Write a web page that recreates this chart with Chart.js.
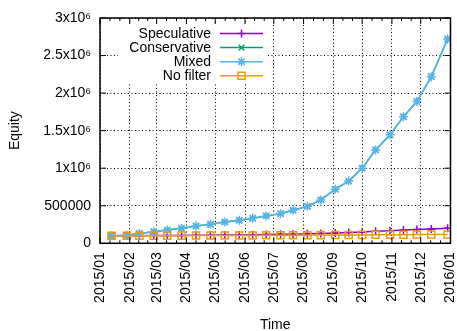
<!DOCTYPE html>
<html><head><meta charset="utf-8">
<script src="https://cdn.jsdelivr.net/npm/chart.js@4/dist/chart.umd.min.js"></script>
<style>html,body{margin:0;padding:0;background:#fff}#wrap{width:457px;height:331px}canvas{display:block}</style>
</head><body>
<div id="wrap"><canvas id="c" width="457" height="331"></canvas></div>
<script>
// ---- data ----
const monthDays = [0, 31, 59, 90, 120, 151, 181, 212, 243, 273, 304, 334, 365];
const monthLabels = ['2015/01','2015/02','2015/03','2015/04','2015/05','2015/06','2015/07','2015/08','2015/09','2015/10','2015/11','2015/12','2016/01'];
const yTickValues = [0, 500000, 1000000, 1500000, 2000000, 2500000, 3000000];
const yTickLabels = ['0', '500000', '1x10⁶', '1.5x10⁶', '2x10⁶', '2.5x10⁶', '3x10⁶'];
const seriesNames = ['Speculative', 'Conservative', 'Mixed', 'No filter'];
// day of year (2015) of each plotted sample
const days = [12, 28, 41, 56, 70, 85, 100, 115, 130, 145, 159, 173, 188, 201, 216, 230, 245, 259, 273, 287, 302, 316, 330, 345, 362];
const speculative = [100000, 101000, 102000, 103000, 104000, 105000, 107000, 108000, 110000, 112000, 114000, 116000, 119000, 122000, 126000, 131000, 138000, 145000, 152000, 160000, 168000, 176000, 184000, 192000, 200000];
const conservative = [100000, 108000, 130000, 155000, 177000, 200000, 230000, 253000, 284000, 307000, 333000, 365000, 395000, 440000, 492000, 578000, 720000, 828000, 1000000, 1244000, 1444000, 1685000, 1888000, 2218000, 2720000];
const mixed = [100000, 108000, 130000, 155000, 177000, 200000, 230000, 253000, 284000, 307000, 333000, 365000, 395000, 440000, 492000, 578000, 720000, 828000, 1000000, 1244000, 1444000, 1685000, 1888000, 2218000, 2720000];
const noFilter = [100000, 100000, 101000, 101000, 102000, 102000, 103000, 103000, 104000, 104000, 105000, 106000, 106000, 107000, 108000, 109000, 110000, 111000, 112000, 113000, 114000, 115000, 116000, 117000, 118000];

const FONT = '"Liberation Sans", Arial, sans-serif';
Chart.defaults.font.family = FONT;
Chart.defaults.font.size = 14;
Chart.defaults.color = '#000';

function pts(vals) { return vals.map((v, i) => ({x: days[i], y: v})); }

function mkDs(label, vals, color, style, radius, order) {
  return {
    label, data: pts(vals), borderColor: color, backgroundColor: 'rgba(0,0,0,0)',
    pointStyle: style, pointRadius: radius, pointHoverRadius: radius,
    pointBorderColor: color, pointBackgroundColor: 'rgba(0,0,0,0)',
    pointBorderWidth: 1.5, borderWidth: 1.5, tension: 0, order
  };
}

const bgPlugin = {
  id: 'bg',
  beforeDraw(chart) {
    const ctx = chart.ctx;
    ctx.save(); ctx.fillStyle = '#fff'; ctx.fillRect(0, 0, chart.width, chart.height); ctx.restore();
  }
};

const framePlugin = {
  id: 'frame',
  afterDatasetsDraw(chart) {
    const ctx = chart.ctx, a = chart.chartArea;
    const xs = chart.scales.x, ys = chart.scales.y;
    ctx.save();
    // legend (opaque key)
    ctx.fillStyle = '#fff';
    ctx.fillRect(118, 24, 150, 59);
    ctx.font = '14px ' + FONT;
    ctx.textAlign = 'right'; ctx.textBaseline = 'middle';
    chart.data.datasets.forEach((ds, i) => {
      const y = 33.5 + i * 14.1;
      ctx.fillStyle = '#000';
      ctx.fillText(ds.label, 211, y + 0.5);
      ctx.strokeStyle = ds.borderColor; ctx.lineWidth = 1.5;
      ctx.beginPath(); ctx.moveTo(220, y); ctx.lineTo(263, y); ctx.stroke();
      ctx.fillStyle = 'rgba(0,0,0,0)';
      Chart.helpers.drawPoint(ctx, {pointStyle: ds.pointStyle, radius: ds.pointRadius, borderWidth: 1.5, rotation: 0}, 241.5, y);
    });
    // ticks inside border
    ctx.strokeStyle = '#000'; ctx.lineWidth = 1;
    ctx.beginPath();
    monthDays.forEach((d, i) => {
      const px = xs.getPixelForValue(d);
      ctx.moveTo(px, a.bottom); ctx.lineTo(px, a.bottom - 6);
      ctx.moveTo(px, a.top); ctx.lineTo(px, a.top + 6);
      if (i < monthDays.length - 1) {
        const span = monthDays[i + 1] - d;
        [1 / 3, 2 / 3].forEach(f => {
          const mx = xs.getPixelForValue(d + span * f);
          ctx.moveTo(mx, a.bottom); ctx.lineTo(mx, a.bottom - 3);
          ctx.moveTo(mx, a.top); ctx.lineTo(mx, a.top + 3);
        });
      }
    });
    yTickValues.forEach(v => {
      const py = ys.getPixelForValue(v);
      ctx.moveTo(a.left, py); ctx.lineTo(a.left + 6, py);
      ctx.moveTo(a.right, py); ctx.lineTo(a.right - 6, py);
    });
    ctx.stroke();
    // border
    ctx.lineWidth = 1.5;
    ctx.strokeRect(a.left, a.top, a.right - a.left, a.bottom - a.top);
    ctx.restore();
  }
};

new Chart(document.getElementById('c'), {
  type: 'line',
  data: {
    datasets: [
      mkDs(seriesNames[0], speculative, '#9400d3', 'cross', 4, 4),
      mkDs(seriesNames[1], conservative, '#009e73', 'crossRot', 4, 3),
      mkDs(seriesNames[2], mixed, '#56b4e9', 'star', 4.5, 2),
      mkDs(seriesNames[3], noFilter, '#e69f00', 'rect', 5, 1)
    ]
  },
  options: {
    responsive: false,
    animation: false,
    devicePixelRatio: 1,
    layout: {padding: {top: 18, right: 5.5, left: 0, bottom: 0}},
    plugins: {legend: {display: false}, tooltip: {enabled: false}, title: {display: false}},
    scales: {
      x: {
        type: 'linear', position: 'bottom', min: 0, max: 365,
        afterBuildTicks: s => { s.ticks = monthDays.map(v => ({value: v})); },
        afterFit: s => { s.height = 331 - 243.3; s.paddingLeft = 0; s.paddingRight = 0; },
        ticks: {
          autoSkip: false, maxRotation: 90, minRotation: 90, padding: 9,
          font: {size: 14, family: FONT}, color: '#000',
          callback: (v, i) => monthLabels[i]
        },
        grid: {color: '#000', lineWidth: 1, drawTicks: false},
        border: {display: false, dash: [1, 2.5]},
        title: {display: true, text: 'Time', font: {size: 14, family: FONT, lineHeight: 1}, color: '#000', padding: {top: 0, bottom: -1}}
      },
      y: {
        type: 'linear', position: 'left', min: 0, max: 3000000,
        afterBuildTicks: s => { s.ticks = yTickValues.map(v => ({value: v})); },
        afterFit: s => { s.width = 100; s.paddingTop = 0; s.paddingBottom = 0; },
        ticks: {
          autoSkip: false, padding: 9, font: {size: 14, family: FONT}, color: '#000',
          callback: (v, i) => yTickLabels[i]
        },
        grid: {color: '#000', lineWidth: 1, drawTicks: false},
        border: {display: false, dash: [1, 2.5]},
        title: {display: true, text: 'Equity', font: {size: 14, family: FONT, lineHeight: 1}, color: '#000', padding: {top: 8.5, bottom: 0}}
      }
    }
  },
  plugins: [bgPlugin, framePlugin]
});
</script>
</body></html>
